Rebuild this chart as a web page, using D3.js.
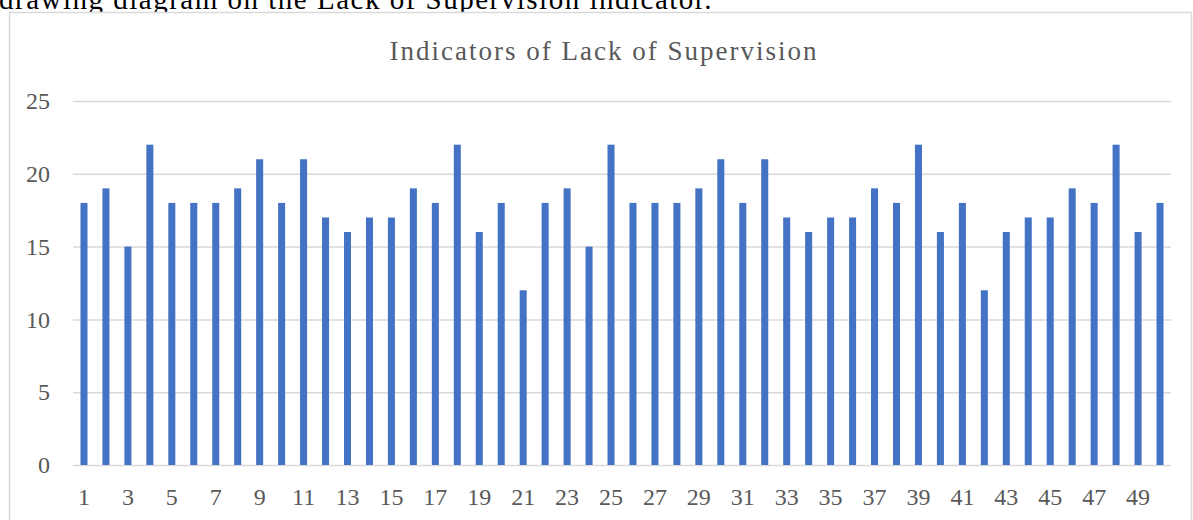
<!DOCTYPE html>
<html>
<head>
<meta charset="utf-8">
<script src="https://cdn.jsdelivr.net/npm/d3@7"></script>
<style>
  html, body { margin: 0; padding: 0; background: #fff; overflow: hidden; }
  svg { display: block; }
</style>
</head>
<body>
<svg id="chart" width="1193" height="520"></svg>
<script>
const categories = d3.range(1, 51).map(String);
const values = [18, 19, 15, 22, 18, 18, 18, 19, 21, 18,
                21, 17, 16, 17, 17, 19, 18, 22, 16, 18,
                12, 18, 19, 15, 22, 18, 18, 18, 19, 21,
                18, 21, 17, 16, 17, 17, 19, 18, 22, 16,
                18, 12, 16, 17, 17, 19, 18, 22, 16, 18];
const yTicks = [0, 5, 10, 15, 20, 25];
const xTickLabels = categories.filter((d, i) => i % 2 === 0);
const title = "Indicators of Lack of Supervision";
const caption = "drawing diagram on the Lack of Supervision indicator.";

const svg = d3.select("#chart");
const serif = "'Liberation Serif', 'DejaVu Serif', serif";

// partially visible document text above the chart
svg.append("text")
  .attr("x", -1).attr("y", 9)
  .attr("font-family", serif).attr("font-size", 29)
  .attr("letter-spacing", 1.5)
  .attr("fill", "#000")
  .text(caption);

// chart frame
svg.append("rect")
  .attr("x", 9.5).attr("y", 12.5)
  .attr("width", 1182).attr("height", 530)
  .attr("fill", "#fff").attr("stroke", "#d9d9d9").attr("stroke-width", 1.5);

const x = d3.scaleBand().domain(categories).range([73, 1171]).paddingInner(0.68).paddingOuter(0.34);
const y = d3.scaleLinear().domain([0, 25]).range([465, 101]);

// title
svg.append("text")
  .attr("x", 604).attr("y", 60)
  .attr("text-anchor", "middle")
  .attr("font-family", serif).attr("font-size", 27)
  .attr("letter-spacing", 2)
  .attr("fill", "#595959")
  .text(title);

// gridlines
const yAxis = d3.axisLeft(y).tickValues(yTicks).tickSize(-(1171 - 73)).tickPadding(23);
const gy = svg.append("g").attr("transform", "translate(73,0)").call(yAxis);
gy.select(".domain").remove();
gy.selectAll(".tick line").attr("stroke", "#d9d9d9").attr("stroke-width", 1.5);
gy.selectAll(".tick text")
  .attr("font-family", serif).attr("font-size", 24).attr("fill", "#595959");

// bars
svg.append("g").selectAll("rect")
  .data(values)
  .join("rect")
  .attr("x", (d, i) => x(categories[i]))
  .attr("width", x.bandwidth())
  .attr("y", d => y(d))
  .attr("height", d => y(0) - y(d))
  .attr("fill", "#4472c4");

// x axis labels
const xAxis = d3.axisBottom(x).tickValues(xTickLabels).tickSize(0).tickPadding(23);
const gx = svg.append("g").attr("transform", "translate(0,465)").call(xAxis);
gx.select(".domain").remove();
gx.selectAll(".tick text")
  .attr("font-family", serif).attr("font-size", 24).attr("fill", "#595959");
</script>
</body>
</html>
